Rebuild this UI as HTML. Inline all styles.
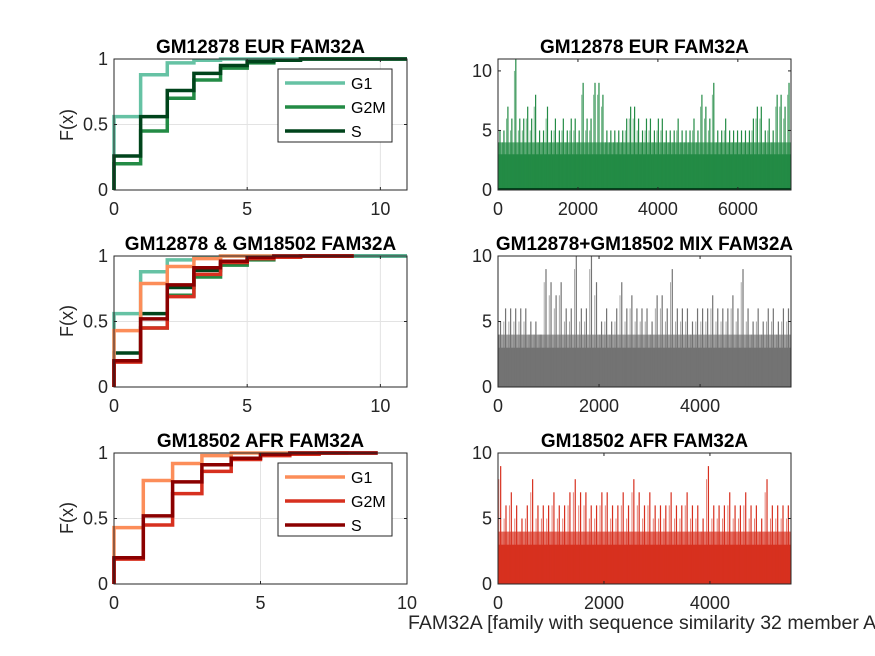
<!DOCTYPE html>
<html><head><meta charset="utf-8"><style>
html,body{margin:0;padding:0;background:#fff;overflow:hidden;}
svg{display:block;font-family:"Liberation Sans",sans-serif;}
</style></head><body>
<svg id="fig" width="875" height="656" viewBox="0 0 875 656" xmlns="http://www.w3.org/2000/svg">
<rect width="875" height="656" fill="#fff"/>
<text x="408" y="629" font-size="19.5" fill="#262626">FAM32A [family with sequence similarity 32 member A]</text>
</svg>
<script>
// ---- CDF data (step values at x = 0,1,2,...) ----
const eurG1  = [0.56,0.88,0.97,0.99,1,1,1,1,1,1];
const eurG2M = [0.20,0.45,0.70,0.84,0.93,0.97,0.99,1,1,1,1,1];
const eurS   = [0.26,0.56,0.76,0.89,0.95,0.98,0.99,1,1,1,1,1];
const afrG1  = [0.43,0.79,0.92,0.98,1,1,1,1,1];
const afrG2M = [0.19,0.45,0.69,0.86,0.95,0.98,0.99,1,1,1];
const afrS   = [0.20,0.52,0.78,0.91,0.96,0.99,1,1,1,1];
// ---- per-cell count data (max per bin) ----
const eurSpikes = [5,5,7,6,11,6,6,7,6,8,5,5,7,5,6,5,6,5,6,6,5,9,6,6,9,9,8,5,5,5,5,5,6,7,7,6,5,6,6,5,6,6,5,5,5,6,5,5,5,6,5,8,7,6,9,5,5,6,5,5,5,5,5,5,6,7,7,5,6,5,8,8,7,9];
const mixSpikes = [5,6,6,6,6,6,5,5,4,9,8,7,8,6,6,10,6,6,10,8,5,6,5,6,8,6,7,6,6,6,5,7,7,6,9,6,6,6,5,6,6,6,7,6,6,6,7,6,9,6,5,6,5,6,6,5,6,6];
const afrSpikes = [9,6,7,6,5,6,8,6,6,6,7,6,6,7,8,7,7,6,6,7,7,6,6,7,6,8,7,6,7,6,6,6,7,6,6,7,6,6,5,9,6,6,6,7,6,6,7,6,6,5,8,6,6,6,6];
const eurCells = 7330, mixCells = 5800, afrCells = 5530;
const eurBase = [3,4], mixBase = [3,4], afrBase = [3,4];

const NS="http://www.w3.org/2000/svg";
const svg=document.getElementById('fig');
function el(tag,attrs,parent){const e=document.createElementNS(NS,tag);for(const k in attrs)e.setAttribute(k,attrs[k]);(parent||svg).appendChild(e);return e;}
function txt(s,attrs,parent){const t=el('text',attrs,parent);t.textContent=s;return t;}

function axes(name,x0,y0,w,h,xmax,ymax,xticks,yticks,ylabels,title,grid){
  const g=el('g',{});
  
  
  const sx=v=>x0+v/xmax*w, sy=v=>y0+h-v/ymax*h;
  el('rect',{x:x0,y:y0,width:w,height:h,fill:'#fff'},g);
  if(grid){
    xticks.forEach(t=>{if(t>0&&t<xmax)el('line',{x1:sx(t),x2:sx(t),y1:y0,y2:y0+h,stroke:'#e3e3e3','stroke-width':1},g);});
    yticks.forEach(t=>{if(t>0&&t<ymax)el('line',{x1:x0,x2:x0+w,y1:sy(t),y2:sy(t),stroke:'#e3e3e3','stroke-width':1},g);});
  }
  const t=txt(title,{x:x0+w/2,y:y0-6,'text-anchor':'middle','font-size':19,'font-weight':'bold',fill:'#000'},svg);
  
  
  return {g,sx,sy,x0,y0,w,h,xticks,yticks,ylabels};
}
function finish(a){
  const {g,sx,sy,x0,y0,w,h}=a;
  el('rect',{x:x0,y:y0,width:w,height:h,fill:'none',stroke:'#262626','stroke-width':1},svg);
  a.xticks.forEach(t=>{const x=sx(t);
    el('line',{x1:x,x2:x,y1:y0+h,y2:y0+h-3,stroke:'#262626'},svg);
    el('line',{x1:x,x2:x,y1:y0,y2:y0+3,stroke:'#262626'},svg);
    const l=txt(String(t),{x:x,y:y0+h+25,'text-anchor':'middle','font-size':18,fill:'#262626'});
    
    });
  a.yticks.forEach((t,i)=>{const y=sy(t);
    el('line',{x1:x0,x2:x0+3,y1:y,y2:y,stroke:'#262626'},svg);
    el('line',{x1:x0+w,x2:x0+w-3,y1:y,y2:y,stroke:'#262626'},svg);
    const l=txt(a.ylabels[i],{x:x0-6,y:y+6,'text-anchor':'end','font-size':18,fill:'#262626'});
    
    });
}
function stairs(a,vals,color,name,xend){
  const {sx,sy}=a;
  let d=`M${sx(0)},${sy(0)} L${sx(0)},${sy(vals[0])}`;
  for(let i=1;i<vals.length;i++){d+=` L${sx(i)},${sy(vals[i-1])} L${sx(i)},${sy(vals[i])}`;}
  d+=` L${sx(xend)},${sy(vals[vals.length-1])}`;
  const p=el('path',{d:d,fill:'none',stroke:color,'stroke-width':3.5,'stroke-linejoin':'miter'},a.g);
  
  
}
function legend(x,y,items){
  const g=el('g',{});
  
  
  el('rect',{x:x,y:y,width:114,height:73,fill:'#fff',stroke:'#262626','stroke-width':1},g);
  items.forEach((it,i)=>{const yy=y+14+i*24;
    const e=el('g',{},g);
    
    
    el('line',{x1:x+7,x2:x+67,y1:yy,y2:yy,stroke:it[1],'stroke-width':3.5},e);
    txt(it[0],{x:x+73,y:yy+6,'font-size':16,fill:'#000'},e);});
}
function ylab(x,y){const t=txt('F(x)',{x:0,y:0,'text-anchor':'middle','font-size':18,fill:'#262626',transform:`translate(${x},${y}) rotate(-90)`});
  }
function bars(a,spikes,cells,base,color,ymax,name){
  const {g,sx,sy}=a;
  const gb=el('g',{},g);
  
  
  el('rect',{x:sx(0),y:sy(base[1]),width:sx(cells)-sx(0),height:sy(0)-sy(base[1]),fill:color,opacity:0.7},gb);
  el('rect',{x:sx(0),y:sy(base[0]),width:sx(cells)-sx(0),height:sy(0)-sy(base[0]),fill:color},gb);
  const bw=cells/spikes.length;
  spikes.forEach((v,i)=>{
    const x=sx(i*bw+bw*0.5);
    el('line',{x1:x,x2:x,y1:sy(0),y2:sy(v),stroke:color,'stroke-width':1.2},gb);
    const x2=sx(i*bw+bw*0.15);
    el('line',{x1:x2,x2:x2,y1:sy(0),y2:sy(Math.max(base[1],v-1)),stroke:color,'stroke-width':1,opacity:0.6},gb);
  });
}
const GC=['#66c2a4','#238b45','#00441b'], RC=['#fc8d59','#d7301f','#8b0000'];

// Row 1 left
let a=axes('cdf-eur-axes',114,59,293,131,11,1,[0,5,10],[0,0.5,1],['0','0.5','1'],'GM12878 EUR FAM32A',true);
stairs(a,eurG1,GC[0],'line-g1',11);stairs(a,eurG2M,GC[1],'line-g2m',11);stairs(a,eurS,GC[2],'line-s',11);
finish(a);legend(278,69,[['G1',GC[0]],['G2M',GC[1]],['S',GC[2]]]);ylab(73,125);
// Row 1 right
a=axes('counts-eur-axes',498,59,293,131,eurCells,11,[0,2000,4000,6000],[0,5,10],['0','5','10'],'GM12878 EUR FAM32A',false);
bars(a,eurSpikes,eurCells,eurBase,'#238b45',11,'bars-eur');
el('line',{x1:498,x2:791,y1:189,y2:189,stroke:'#00441b','stroke-width':2});
finish(a);
// Row 2 left
a=axes('cdf-combined-axes',114,256,293,131,11,1,[0,5,10],[0,0.5,1],['0','0.5','1'],'GM12878 & GM18502 FAM32A',true);
stairs(a,eurG2M,GC[1],'line-eur-g2m',11);stairs(a,eurS,GC[2],'line-eur-s',11);stairs(a,eurG1,GC[0],'line-eur-g1',11);
stairs(a,afrG1,RC[0],'line-afr-g1',9);stairs(a,afrG2M,RC[1],'line-afr-g2m',9);stairs(a,afrS,RC[2],'line-afr-s',9);
finish(a);ylab(73,321);
// Row 2 right
a=axes('counts-mix-axes',498,256,293,131,mixCells,10,[0,2000,4000],[0,5,10],['0','5','10'],'GM12878+GM18502 MIX FAM32A',false);
bars(a,mixSpikes,mixCells,mixBase,'#737373',10,'bars-mix');
finish(a);
// Row 3 left
a=axes('cdf-afr-axes',114,453,293,131,10,1,[0,5,10],[0,0.5,1],['0','0.5','1'],'GM18502 AFR FAM32A',true);
stairs(a,afrG1,RC[0],'line-g1',8);stairs(a,afrG2M,RC[1],'line-g2m',9);stairs(a,afrS,RC[2],'line-s',9);
finish(a);legend(278,463,[['G1',RC[0]],['G2M',RC[1]],['S',RC[2]]]);ylab(73,518);
// Row 3 right
a=axes('counts-afr-axes',498,453,293,131,afrCells,10,[0,2000,4000],[0,5,10],['0','5','10'],'GM18502 AFR FAM32A',false);
bars(a,afrSpikes,afrCells,afrBase,'#d7301f',10,'bars-afr');
finish(a);
</script>
</body></html>
